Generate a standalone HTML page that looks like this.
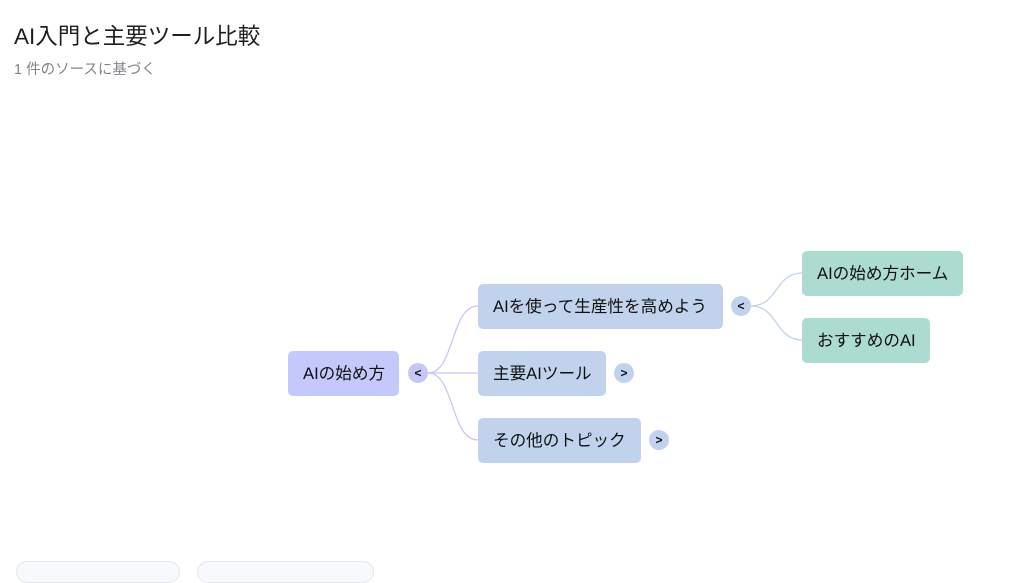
<!DOCTYPE html>
<html><head><meta charset="utf-8"><style>
body{margin:0;width:1024px;height:566px;overflow:hidden;background:#fff;font-family:"Liberation Sans","Noto Sans CJK JP",sans-serif;position:relative}
.t{position:absolute;left:14px;top:19px;font-size:22.5px;color:#1f1f1f}
.s{position:absolute;left:14px;top:58px;font-size:14.5px;color:#80868b}
.n{position:absolute;box-sizing:border-box;border-radius:5px;font-size:16.6px;color:#111;display:flex;align-items:center;padding-left:15px;padding-bottom:3px;height:45px}
.c{position:absolute;width:20px;height:20px;border-radius:50%;font-size:12px;font-weight:bold;display:flex;align-items:center;justify-content:center;color:#111}
.card{position:absolute;top:561px;height:20px;border:1px solid #e3e6ec;border-radius:12px;background:#f8f9fc}
</style></head><body>
<div class="t">AI入門と主要ツール比較</div>
<div class="s">1 件のソースに基づく</div>
<svg width="1024" height="566" style="position:absolute;left:0;top:0" fill="none" stroke-width="1.3">
<g stroke="#c5c8f3">
<path d="M428 373 C455 373 450 306 478 306"/>
<path d="M428 373 L478 373"/>
<path d="M428 373 C455 373 450 440 478 440"/>
</g>
<g stroke="#c3d3ec">
<path d="M751 306 C778 306 775 273 802 273"/>
<path d="M751 306 C778 306 775 340 802 340"/>
</g>
</svg>
<div class="n" style="left:288px;top:351px;width:111px;background:#c5c8fa">AIの始め方</div>
<div class="c" style="left:408px;top:363px;background:#c5c8f3">&lt;</div>
<div class="n" style="left:478px;top:284px;width:245px;background:#c1d3ec">AIを使って生産性を高めよう</div>
<div class="c" style="left:731px;top:296px;background:#c1d3ec">&lt;</div>
<div class="n" style="left:478px;top:351px;width:128px;background:#c1d3ec">主要AIツール</div>
<div class="c" style="left:614px;top:363px;background:#c1d3ec">&gt;</div>
<div class="n" style="left:478px;top:418px;width:163px;background:#c1d3ec">その他のトピック</div>
<div class="c" style="left:649px;top:430px;background:#c1d3ec">&gt;</div>
<div class="n" style="left:802px;top:251px;width:161px;background:#acdbcf">AIの始め方ホーム</div>
<div class="n" style="left:802px;top:318px;width:128px;background:#acdbcf">おすすめのAI</div>
<div class="card" style="left:16px;width:162px"></div>
<div class="card" style="left:197px;width:175px"></div>
</body></html>
